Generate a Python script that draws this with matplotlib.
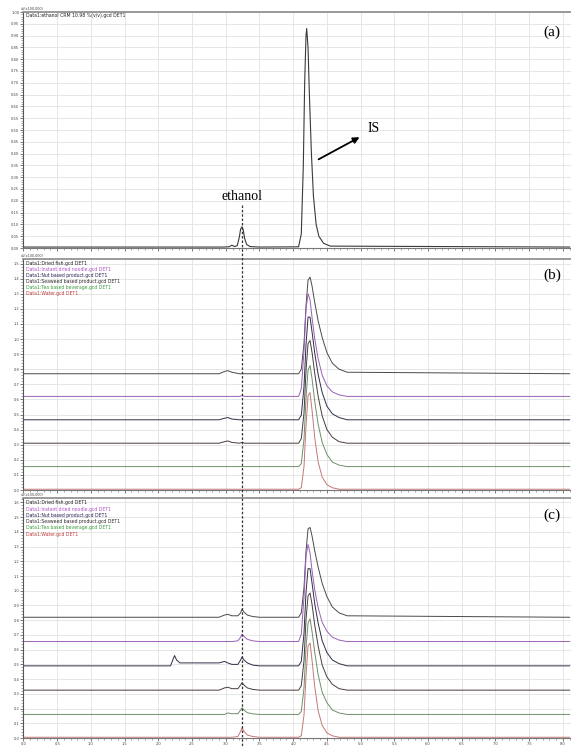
import matplotlib
matplotlib.use("Agg")
import matplotlib.pyplot as plt
from matplotlib.transforms import blended_transform_factory
from matplotlib.lines import Line2D
from matplotlib.ticker import MultipleLocator, FormatStrFormatter

# ---------------- data ----------------
# time axis (min)
x_ticks = [0.0, 0.5, 1.0, 1.5, 2.0, 2.5, 3.0, 3.5, 4.0, 4.5, 5.0, 5.5, 6.0, 6.5, 7.0, 7.5, 8.0]
ethanol_rt = 3.24

# panel (a): ethanol CRM + IS
t_a = [0.00, 2.95, 3.05, 3.09, 3.13, 3.17, 3.20, 3.22, 3.24, 3.26, 3.28, 3.31, 3.36, 3.50,
       4.08, 4.12, 4.15, 4.17, 4.19, 4.20, 4.22, 4.24, 4.27, 4.30, 4.34, 4.38, 4.45, 4.55, 8.10]
y_a = [0.004, 0.004, 0.005, 0.012, 0.006, 0.010, 0.045, 0.080, 0.090, 0.075, 0.040, 0.015, 0.006, 0.004,
       0.005, 0.060, 0.350, 0.700, 0.900, 0.930, 0.850, 0.650, 0.400, 0.220, 0.100, 0.050, 0.020, 0.008, 0.004]

sample_names = ["Dried fish", "Instant dried noodle", "Nut based product",
                "Seaweed based product", "Tea based beverage", "Water"]

# panel (b): samples
t_b = [0.0, 2.90, 2.98, 3.03, 3.09, 3.20, 3.24, 3.28, 4.08, 4.12, 4.16, 4.19, 4.22, 4.25,
       4.28, 4.32, 4.37, 4.43, 4.50, 4.58, 4.68, 4.80, 8.1]
base_b = [0.77, 0.62, 0.465, 0.31, 0.155, 0.005]
sig_b = [
    [0, 0, 0.015, 0.02, 0.01, 0, 0, 0, 0, 0.03, 0.20, 0.45, 0.62, 0.64, 0.58, 0.47, 0.35, 0.24, 0.14, 0.07, 0.03, 0.01, 0],
    [0, 0, 0, 0, 0, 0, 0.005, 0, 0, 0.05, 0.30, 0.58, 0.68, 0.64, 0.52, 0.38, 0.25, 0.14, 0.07, 0.03, 0.01, 0, 0],
    [0, 0, 0.01, 0.015, 0.005, 0, 0, 0, 0, 0.03, 0.22, 0.50, 0.68, 0.68, 0.58, 0.44, 0.30, 0.18, 0.09, 0.04, 0.015, 0, 0],
    [0, 0, 0.01, 0.015, 0.005, 0, 0.005, 0, 0, 0.03, 0.20, 0.48, 0.66, 0.68, 0.60, 0.46, 0.31, 0.18, 0.09, 0.04, 0.01, 0, 0],
    [0, 0, 0, 0, 0, 0, 0, 0, 0, 0.02, 0.18, 0.45, 0.64, 0.67, 0.58, 0.43, 0.28, 0.16, 0.08, 0.03, 0.01, 0, 0],
    [0, 0, 0, 0, 0, 0, 0, 0, 0, 0.01, 0.15, 0.42, 0.62, 0.64, 0.52, 0.34, 0.18, 0.08, 0.03, 0.01, 0, 0, 0],
]

# panel (c): spiked samples
t_c = [0.0, 2.18, 2.24, 2.27, 2.32, 2.90, 2.98, 3.03, 3.09, 3.18, 3.22, 3.24, 3.27, 3.32, 3.40, 3.50,
       4.08, 4.12, 4.16, 4.19, 4.22, 4.25, 4.28, 4.32, 4.37, 4.43, 4.50, 4.58, 4.68, 4.80, 8.1]
base_c = [0.82, 0.655, 0.49, 0.325, 0.16, 0.005]
sig_c = [
    [0, 0, 0, 0, 0, 0, 0.015, 0.02, 0.01, 0.01, 0.03, 0.055, 0.035, 0.015, 0.005, 0, 0, 0.03, 0.20, 0.45, 0.60, 0.61, 0.55, 0.45, 0.34, 0.23, 0.14, 0.07, 0.03, 0.01, 0],
    [0, 0, 0, 0, 0, 0, 0, 0, 0, 0.005, 0.03, 0.05, 0.035, 0.015, 0.005, 0, 0, 0.05, 0.30, 0.58, 0.66, 0.60, 0.48, 0.35, 0.23, 0.13, 0.07, 0.03, 0.01, 0, 0],
    [0, 0, 0.07, 0.04, 0.02, 0.02, 0.03, 0.02, 0.01, 0.01, 0.04, 0.06, 0.04, 0.02, 0.005, 0, 0, 0.03, 0.22, 0.50, 0.66, 0.66, 0.56, 0.42, 0.29, 0.17, 0.09, 0.04, 0.015, 0, 0],
    [0, 0, 0, 0, 0, 0, 0.015, 0.02, 0.01, 0.01, 0.035, 0.05, 0.035, 0.015, 0.005, 0, 0, 0.03, 0.20, 0.48, 0.64, 0.66, 0.58, 0.44, 0.30, 0.17, 0.09, 0.04, 0.01, 0, 0],
    [0, 0, 0, 0, 0, 0, 0, 0.01, 0.005, 0.005, 0.03, 0.045, 0.03, 0.012, 0.004, 0, 0, 0.02, 0.18, 0.45, 0.62, 0.65, 0.56, 0.42, 0.27, 0.15, 0.08, 0.03, 0.01, 0, 0],
    [0, 0, 0, 0, 0, 0, 0, 0, 0, 0.005, 0.04, 0.065, 0.04, 0.015, 0.005, 0, 0, 0.01, 0.15, 0.42, 0.62, 0.64, 0.52, 0.34, 0.18, 0.08, 0.03, 0.01, 0, 0, 0],
]

trace_colors = ["#4a4a4a", "#9a5fb5", "#2e2e48", "#4a3c3c", "#6f8f6a", "#c27878"]
legend_colors = ["#202020", "#b050c8", "#202050", "#302828", "#3a9a3a", "#c03a3a"]

# ---------------- figure ----------------
W, H = 571, 747
fig = plt.figure(figsize=(W / 100, H / 100), dpi=100)
fig.patch.set_facecolor("white")

def fx(px):
    return px / W

def fy(py):
    return 1 - py / H

left = fx(23.5)
right = 1.0
panels = [
    (fy(248), fy(12), 0.0, 1.0, 0.05),
    (fy(490), fy(259), 0.0, 1.53, 0.1),
    (fy(738), fy(498), 0.0, 1.63, 0.1),
]
axes = []
for (yb, yt, lo, hi, step) in panels:
    ax = fig.add_axes([left, yb, right - left, yt - yb])
    ax.set_xlim(0.0, 8.12)
    ax.set_ylim(lo, hi)
    ax.set_xticks(x_ticks)
    ax.xaxis.set_minor_locator(MultipleLocator(0.1))
    ax.yaxis.set_major_locator(MultipleLocator(step))
    ax.yaxis.set_minor_locator(MultipleLocator(step / 5))
    ax.grid(True, which="major", color="#e2e2e2", lw=0.6)
    ax.set_axisbelow(True)
    ax.spines["right"].set_visible(False)
    ax.spines["top"].set_color("#8a8a8a")
    ax.spines["top"].set_linewidth(1.2)
    ax.spines["left"].set_color("#555555")
    ax.spines["bottom"].set_color("#777777")
    ax.spines["left"].set_linewidth(0.8)
    ax.spines["bottom"].set_linewidth(0.8)
    ax.tick_params(axis="both", which="major", labelsize=2.6, length=2, width=0.5,
                   colors="#444444", pad=1)
    ax.tick_params(axis="both", which="minor", length=1.2, width=0.4, colors="#666666")
    axes.append(ax)

ax_a, ax_b, ax_c = axes
ax_a.yaxis.set_major_formatter(FormatStrFormatter("%.2f"))
ax_b.yaxis.set_major_formatter(FormatStrFormatter("%.1f"))
ax_c.yaxis.set_major_formatter(FormatStrFormatter("%.1f"))
for ax in axes:
    ax.xaxis.set_major_formatter(FormatStrFormatter("%.1f"))
ax_a.tick_params(labelbottom=False)
ax_b.tick_params(labelbottom=False)

# panel a trace
ax_a.plot(t_a, y_a, color="#3a3a3a", lw=0.8)
ax_a.text(0.004, 0.995, "Data1:ethanol CRM 10.98 %(v/v).gcd DET1", transform=ax_a.transAxes,
          fontsize=3.3, va="top", ha="left", color="#222222")

# panel b / c traces
for name, b, sig, col in zip(sample_names, base_b, sig_b, trace_colors):
    ax_b.plot(t_b, [b + v for v in sig], color=col, lw=0.7)
for name, b, sig, col in zip(sample_names, base_c, sig_c, trace_colors):
    ax_c.plot(t_c, [b + v for v in sig], color=col, lw=0.7)

for ax in (ax_b, ax_c):
    for i, (name, col) in enumerate(zip(sample_names, legend_colors)):
        ax.text(0.004, 0.99 - i * 0.026, "Data1:%s.gcd DET1" % name, transform=ax.transAxes,
                fontsize=3.3, va="top", ha="left", color=col)

for ax in axes:
    ax.text(-0.005, 1.005, "uV(x100,000)", transform=ax.transAxes, fontsize=2.4,
            ha="left", va="bottom", color="#444444")

# panel labels
serif = ["Liberation Serif", "DejaVu Serif"]
for ax, lab in zip(axes, ["(a)", "(b)", "(c)"]):
    ax.text(0.965, 0.915 if ax is ax_a else 0.93, lab, transform=ax.transAxes, fontsize=11,
            family=serif, ha="center", va="center")

# annotations on panel a
ax_a.text(ethanol_rt, 0.217, "ethanol", fontsize=10, family=serif, ha="center", va="center")
ax_a.text(5.10, 0.506, "IS", fontsize=10, family=serif, ha="left", va="center")
ax_a.annotate("", xy=(5.02, 0.475), xytext=(4.34, 0.37),
              arrowprops=dict(arrowstyle="-|>", color="black", lw=1.3, mutation_scale=9))

# dashed ethanol line across all panels
tr = blended_transform_factory(ax_a.transData, fig.transFigure)
fig.add_artist(Line2D([ethanol_rt, ethanol_rt], [fy(205), fy(746)], transform=tr,
                      color="#333333", lw=0.9, ls=(0, (2, 1.5))))

fig.savefig("out.png", dpi=100, facecolor="white")
